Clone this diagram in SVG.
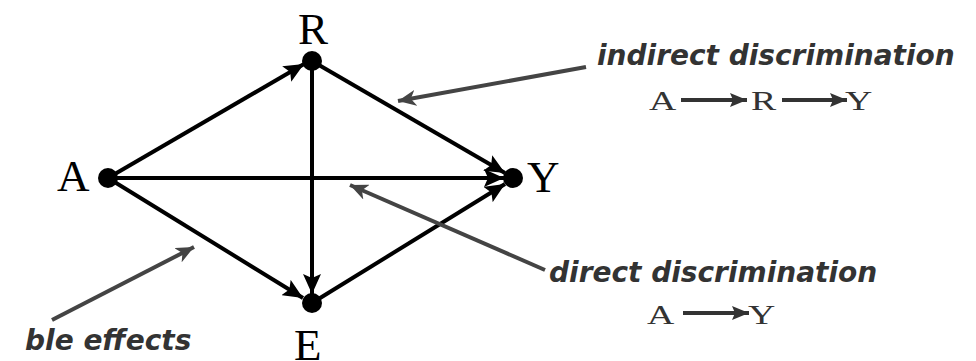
<svg xmlns="http://www.w3.org/2000/svg" width="976" height="361" viewBox="0 0 976 361">
<style>
.edge{stroke:#000;stroke-width:4;fill:none;marker-end:url(#ah)}
.ptr{stroke:#444;stroke-width:4;fill:none;marker-end:url(#gh)}
.lbl{font-family:"Liberation Serif",serif;font-size:45px;fill:#000}
.note{font-family:"DejaVu Sans",sans-serif;font-weight:bold;font-style:italic;font-size:28px;fill:#333}
.f{font-family:"Liberation Serif",serif;font-size:27px;fill:#333}
.fl{stroke:#333;stroke-width:4;marker-end:url(#fh)}
</style>
<defs>
<marker id="ah" markerUnits="userSpaceOnUse" markerWidth="22" markerHeight="18" refX="20" refY="9" orient="auto"><path d="M0,0 L20,9 L0,18 L4,9 Z" fill="#000"/></marker>
<marker id="gh" markerUnits="userSpaceOnUse" markerWidth="20" markerHeight="16" refX="18" refY="8" orient="auto"><path d="M0,0 L18,8 L0,16 L5,8 Z" fill="#444"/></marker>
<marker id="fh" markerUnits="userSpaceOnUse" markerWidth="18" markerHeight="14" refX="17" refY="7" orient="auto"><path d="M0,0 L17,7 L0,14 L3,7 Z" fill="#333"/></marker>
</defs>
<g id="connectors">
<line class="edge" x1="108" y1="178" x2="304" y2="64"/>
<line class="edge" x1="108" y1="178" x2="504" y2="178"/>
<line class="edge" x1="108" y1="178" x2="303" y2="298"/>
<line class="edge" x1="312" y1="61" x2="505" y2="173"/>
<line class="edge" x1="312" y1="61" x2="312" y2="294"/>
<line class="edge" x1="312" y1="303" x2="505" y2="184"/>
</g>
<g id="node-A"><circle cx="108" cy="178" r="10"/><text class="lbl" x="57" y="191">A</text></g>
<g id="node-R"><circle cx="312" cy="61" r="10"/><text class="lbl" x="298" y="44">R</text></g>
<g id="node-Y"><circle cx="513" cy="178" r="10"/><text class="lbl" x="527" y="192">Y</text></g>
<g id="node-E"><circle cx="312" cy="303" r="10"/><text class="lbl" x="294" y="360">E</text></g>
<g id="annotations">
<line class="ptr" x1="586" y1="67" x2="398" y2="101"/>
<text class="note" x="597" y="65">indirect discrimination</text>
<line class="fl" x1="681" y1="100" x2="747" y2="100"/>
<line class="fl" x1="782" y1="100" x2="847" y2="100"/>
<text class="f" transform="translate(649,110) scale(1.4,1)">A</text>
<text class="f" transform="translate(751,110) scale(1.4,1)">R</text>
<text class="f" transform="translate(845,110) scale(1.4,1)">Y</text>
<line class="ptr" x1="545" y1="270" x2="350" y2="185"/>
<text class="note" x="549" y="282">direct discrimination</text>
<line class="fl" x1="683" y1="313" x2="749" y2="313"/>
<text class="f" transform="translate(647,324) scale(1.4,1)">A</text>
<text class="f" transform="translate(748,324) scale(1.4,1)">Y</text>
<line class="ptr" x1="52" y1="320" x2="194" y2="247"/>
<text class="note" x="25" y="350">ble effects</text>
</g>
</svg>
